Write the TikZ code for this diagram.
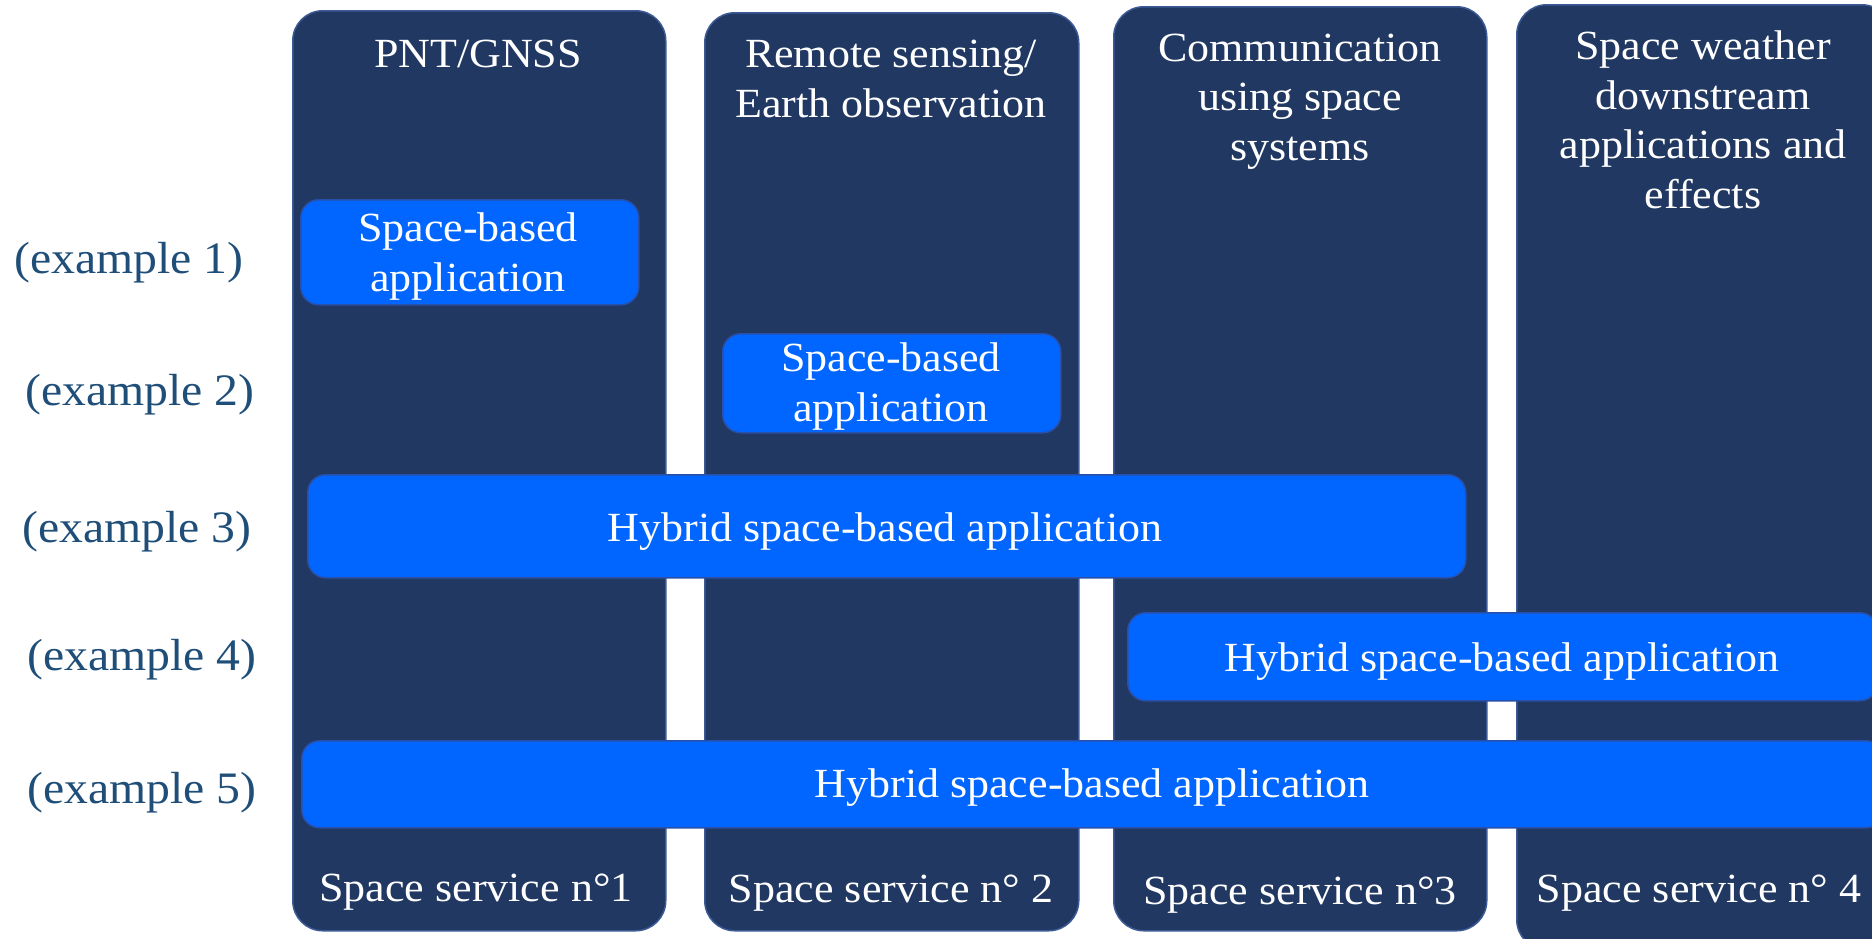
\documentclass[tikz,border=0pt]{standalone}
\usepackage{fontspec}
\setmainfont{Liberation Serif}[FakeStretch=1.06]
\definecolor{navy}{RGB}{33,56,98}
\definecolor{navyedge}{RGB}{60,90,150}
\definecolor{appblue}{RGB}{0,102,255}
\definecolor{appedge}{RGB}{40,80,170}
\definecolor{extext}{RGB}{31,78,121}
\begin{document}
\begin{tikzpicture}[x=1pt,y=-1pt,
  col/.style={draw=navyedge, fill=navy, line width=1.5pt, rounded corners=30pt, anchor=north west, inner sep=0pt},
  app/.style={draw=appedge, fill=appblue, line width=1.5pt, rounded corners=18pt, anchor=north west, inner sep=0pt},
  wtxt/.style={text=white, font=\fontsize{41.5}{49.5}\selectfont, align=center, anchor=base, inner sep=0pt},
  extxt/.style={text=extext, font=\fontsize{45}{50}\selectfont, anchor=base, inner sep=0pt}]
\useasboundingbox (0,0) rectangle (1872,938);
\clip (0,0) rectangle (1872,938);
\fill[white] (0,0) rectangle (1872,938);
% columns
\node[col, minimum width=373, minimum height=920] (c1) at (292,10) {};
\node[col, minimum width=374, minimum height=918] (c2) at (704,12) {};
\node[col, minimum width=373, minimum height=924] (c3) at (1113,6) {};
\node[col, minimum width=375, minimum height=945] (c4) at (1516,4) {};
% titles (base anchor = baseline of last line)
\node[wtxt] (t1) at (478,67) {PNT/GNSS};
\node[wtxt] (t2) at (891,117) {Remote sensing/\\Earth observation};
\node[wtxt] (t3) at (1300,160) {Communication\\using space\\systems};
\node[wtxt] (t4) at (1703,208) {Space weather\\downstream\\applications and\\effects};
% bottom labels
\node[wtxt] (s1) at (476,901) {Space service n°1};
\node[wtxt] (s2) at (891,902) {Space service n° 2};
\node[wtxt] (s3) at (1300,904) {Space service n°3};
\node[wtxt] (s4) at (1699,902) {Space service n° 4};
% application boxes
\node[app, minimum width=338, minimum height=105] (a1) at (300,199) {};
\node[wtxt] (a1t) at (468,291) {Space-based\\application};
\node[app, minimum width=338, minimum height=99] (a2) at (722,333) {};
\node[wtxt] (a2t) at (891,421) {Space-based\\application};
\node[app, minimum width=1158, minimum height=103] (a3) at (307,474) {};
\node[wtxt] (a3t) at (885,541) {Hybrid space-based application};
\node[app, minimum width=750, minimum height=88] (a4) at (1127,612) {};
\node[wtxt] (a4t) at (1502,671) {Hybrid space-based application};
\node[app, minimum width=1582, minimum height=87] (a5) at (301,740) {};
\node[wtxt] (a5t) at (1092,797) {Hybrid space-based application};
% example labels
\node[extxt] (e1) at (129,273) {(example 1)};
\node[extxt] (e2) at (140,405) {(example 2)};
\node[extxt] (e3) at (137,542) {(example 3)};
\node[extxt] (e4) at (142,670) {(example 4)};
\node[extxt] (e5) at (142,803) {(example 5)};
\end{tikzpicture}
\end{document}
